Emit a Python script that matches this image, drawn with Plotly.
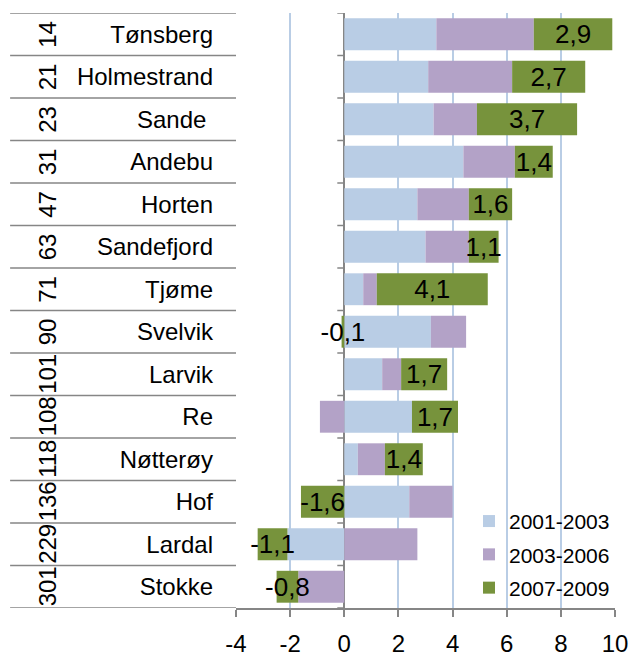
import plotly.graph_objects as go

ranks = ["14", "21", "23", "31", "47", "63", "71", "90", "101", "108", "118", "136", "229", "301"]
names = ["Tønsberg", "Holmestrand", "Sande\u00a0", "Andebu", "Horten", "Sandefjord", "Tjøme",
         "Svelvik", "Larvik", "Re", "Nøtterøy", "Hof", "Lardal", "Stokke"]
s2001_2003 = [3.4, 3.1, 3.3, 4.4, 2.7, 3.0, 0.7, 3.2, 1.4, 2.5, 0.5, 2.4, -2.1, 0.0]
s2003_2006 = [3.6, 3.1, 1.6, 1.9, 1.9, 1.6, 0.5, 1.3, 0.7, -0.9, 1.0, 1.6, 2.7, -1.7]
s2007_2009 = [2.9, 2.7, 3.7, 1.4, 1.6, 1.1, 4.1, -0.1, 1.7, 1.7, 1.4, -1.6, -1.1, -0.8]
series_names = ["2001-2003", "2003-2006", "2007-2009"]
colors = ["#b9cde5", "#b3a2c7", "#77933c"]
x_ticks = [-4, -2, 0, 2, 4, 6, 8, 10]
x_ticktext = [str(v) for v in x_ticks]

FONT = "Liberation Sans, Arial, sans-serif"
GRAY = "#868686"


def fmt(v):
    return f"{v:.1f}".replace(".", ",")


fig = go.Figure()
for i, (nm, vals, col) in enumerate(zip(series_names, [s2001_2003, s2003_2006, s2007_2009], colors)):
    kw = {}
    if i == 2:
        kw = dict(text=[fmt(v) for v in vals], texttemplate="%{text}", textposition="inside",
                  insidetextanchor="middle", textangle=0, constraintext="none",
                  textfont=dict(family=FONT, size=26, color="black"))
    fig.add_trace(go.Bar(y=names, x=vals, name=nm, orientation="h",
                         marker=dict(color=col, line=dict(width=0)),
                         legendgroup=nm, **kw))

shapes = []
for k in range(len(names) + 1):
    yb = k - 0.5
    shapes.append(dict(type="line", xref="paper", yref="y", x0=-0.596, x1=0, y0=yb, y1=yb,
                       line=dict(color=GRAY, width=1.5), layer="above"))
    shapes.append(dict(type="line", xref="x", yref="y", xsizemode="pixel", xanchor=0,
                       x0=-7, x1=0, y0=yb, y1=yb, line=dict(color=GRAY, width=1.5)))

annotations = []
for r, n in zip(ranks, names):
    annotations.append(dict(xref="paper", yref="y", x=-0.538, y=n, text=r, showarrow=False,
                            textangle=-90, font=dict(family=FONT, size=24, color="black")))

fig.update_layout(
    width=631, height=659,
    margin=dict(l=236, r=16, t=13, b=51, autoexpand=False),
    barmode="relative", bargap=0.25,
    paper_bgcolor="white", plot_bgcolor="white",
    font=dict(family=FONT, color="black"),
    showlegend=True,
    legend=dict(x=1.0, xanchor="right", y=0.18, yanchor="top", traceorder="grouped",
                tracegroupgap=3, bgcolor="rgba(0,0,0,0)",
                font=dict(family=FONT, size=21, color="black")),
    shapes=shapes, annotations=annotations,
)
fig.update_xaxes(range=[-4, 10], tickvals=x_ticks, ticktext=x_ticktext, automargin=False,
                 showgrid=True, gridcolor="#b9cde5", gridwidth=1.5,
                 zeroline=True, zerolinecolor=GRAY, zerolinewidth=1.5,
                 showline=True, linecolor=GRAY, linewidth=1.5,
                 ticks="outside", ticklen=7, tickcolor=GRAY, tickwidth=1.5,
                 tickfont=dict(family=FONT, size=24, color="black"), ticklabelstandoff=6)
fig.update_yaxes(type="category", range=[len(names) - 0.5, -0.5], automargin=False,
                 showgrid=False, zeroline=False,
                 showline=False, ticks="", tickfont=dict(family=FONT, size=24, color="black"),
                 ticklabelstandoff=22)

fig.write_html("out.html", config={"displayModeBar": False},
               post_script="document.body.style.margin='0';document.body.style.overflow='hidden';")
